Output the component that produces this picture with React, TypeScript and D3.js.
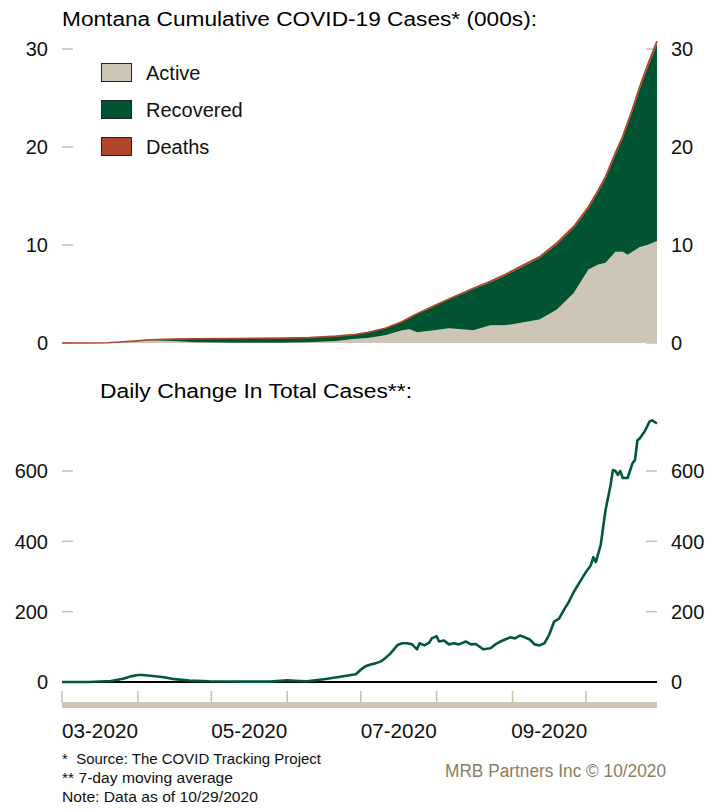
import React from "react";
import * as d3 from "d3";

// ---------- data ----------
const cumDates = [
  "2020-03-01","2020-03-12","2020-03-20","2020-03-26","2020-04-01","2020-04-06","2020-04-15","2020-04-25",
  "2020-05-10","2020-05-30","2020-06-10","2020-06-21","2020-06-28","2020-07-04","2020-07-11","2020-07-18",
  "2020-07-21","2020-07-24","2020-07-31","2020-08-06","2020-08-16","2020-08-23","2020-08-29","2020-09-05",
  "2020-09-12","2020-09-19","2020-09-26","2020-10-02","2020-10-06","2020-10-09","2020-10-13","2020-10-16",
  "2020-10-18","2020-10-20","2020-10-23","2020-10-26","2020-10-30"
];
const totalCases = [
  0, 0, 0.03, 0.12, 0.22, 0.33, 0.40, 0.44, 0.46, 0.50, 0.55, 0.70, 0.85, 1.1, 1.5, 2.2,
  2.6, 3.0, 3.8, 4.5, 5.6, 6.3, 7.0, 7.9, 8.8, 10.2, 11.9, 13.9, 15.6, 17.0, 19.4, 21.1,
  22.5, 23.9, 26.2, 28.3, 30.8
];
const activeCases = [
  0, 0, 0.03, 0.119, 0.21, 0.28, 0.2, 0.08, 0.03, 0.03, 0.08, 0.2, 0.4, 0.5, 0.8, 1.3,
  1.4, 1.1, 1.3, 1.5, 1.3, 1.8, 1.8, 2.1, 2.4, 3.4, 5.1, 7.5, 8.0, 8.2, 9.3, 9.3,
  9.0, 9.3, 9.8, 10.0, 10.4
];
const deathCases = [
  0, 0, 0, 0.001, 0.005, 0.006, 0.012, 0.016, 0.016, 0.017, 0.02, 0.02, 0.022, 0.023, 0.025, 0.03,
  0.034, 0.04, 0.05, 0.06, 0.08, 0.095, 0.11, 0.12, 0.13, 0.15, 0.16, 0.18, 0.19, 0.2, 0.21, 0.22,
  0.24, 0.25, 0.28, 0.31, 0.34
];

const dailyDates = [
  "2020-03-01","2020-03-12","2020-03-21","2020-03-26","2020-03-29","2020-04-01","2020-04-03","2020-04-06",
  "2020-04-11","2020-04-15","2020-04-22","2020-04-30","2020-05-13","2020-05-25","2020-06-01","2020-06-06",
  "2020-06-09","2020-06-16","2020-06-20","2020-06-22","2020-06-27","2020-06-29","2020-07-01","2020-07-03",
  "2020-07-05","2020-07-07","2020-07-09","2020-07-10","2020-07-13","2020-07-16","2020-07-18","2020-07-20",
  "2020-07-22","2020-07-24","2020-07-25","2020-07-27","2020-07-29","2020-07-30","2020-08-01","2020-08-02",
  "2020-08-04","2020-08-06","2020-08-08","2020-08-10","2020-08-13","2020-08-15","2020-08-17","2020-08-20",
  "2020-08-23","2020-08-25","2020-08-27","2020-08-29","2020-08-31","2020-09-02","2020-09-04","2020-09-06",
  "2020-09-08","2020-09-10","2020-09-12","2020-09-14","2020-09-16","2020-09-18","2020-09-20","2020-09-22",
  "2020-09-24","2020-09-26","2020-09-28","2020-10-01","2020-10-03","2020-10-04","2020-10-05","2020-10-07",
  "2020-10-09","2020-10-11","2020-10-12","2020-10-13","2020-10-14","2020-10-15","2020-10-16","2020-10-18",
  "2020-10-20","2020-10-21","2020-10-22","2020-10-23","2020-10-25","2020-10-27","2020-10-28","2020-10-30"
];
const dailyChange = [
  0, 0, 3, 9, 16, 20, 20, 18,
  14, 9, 4, 2, 1, 1, 5, 3,
  2, 8, 12, 14, 20, 22, 35, 45,
  50, 53, 58, 62, 80, 105, 110, 110,
  107, 93, 110, 104, 112, 124, 130, 115,
  118, 107, 110, 107, 115, 107, 108, 93,
  96, 107, 115, 121, 127, 124, 132, 127,
  121, 107, 104, 110, 135, 172, 180, 205,
  228, 256, 279, 313, 332, 355, 341, 389,
  490, 558, 603, 600, 589, 600, 580, 580,
  622, 631, 687, 693, 713, 741, 744, 735
];

const topTicks = [0, 10, 20, 30];
const bottomTicks = [0, 200, 400, 600];
const monthTicks = ["2020-03-01","2020-04-01","2020-05-01","2020-06-01","2020-07-01","2020-08-01","2020-09-01","2020-10-01"];
const monthLabels = ["03-2020", "", "05-2020", "", "07-2020", "", "09-2020", ""];
const seriesNames = ["Active", "Recovered", "Deaths"];
const seriesColors = ["#cdc6b4", "#005431", "#b0452a"];
const footnotes = ["*  Source: The COVID Tracking Project", "** 7-day moving average", "Note: Data as of 10/29/2020"];
const footnoteWidths = [259, 171, 196];

// ---------- chart ----------
const W = 723, H = 809;
const FONT = "'Liberation Sans', Arial, Helvetica, sans-serif";
const TAN = "#c9c1ab";
const parse = d3.timeParse("%Y-%m-%d");

export default function App() {
  const x = d3.scaleTime()
    .domain([parse("2020-03-01"), parse("2020-10-30")])
    .range([62, 657]);
  const yTop = d3.scaleLinear().domain([0, 30]).range([343, 49]);
  const yBot = d3.scaleLinear().domain([0, 600]).range([682, 471]);

  const cumRows = cumDates.map((d, i) => ({
    date: parse(d),
    Active: activeCases[i],
    Recovered: Math.max(0, totalCases[i] - activeCases[i] - deathCases[i]),
    Deaths: deathCases[i],
  }));
  const stack = d3.stack().keys(seriesNames)(cumRows as any);
  const area = d3.area<any>()
    .x((d) => x(d.data.date))
    .y0((d) => yTop(d[0]))
    .y1((d) => yTop(d[1]));
  const topLine = d3.line<any>()
    .x((d) => x(d.data.date))
    .y((d) => yTop(d[1]));

  const dailyRows = dailyDates.map((d, i) => ({ date: parse(d), v: dailyChange[i] }));
  const dailyLine = d3.line<any>()
    .x((d) => x(d.date))
    .y((d) => yBot(d.v));

  const months = monthTicks.map((m) => parse(m)!);
  const endDate = parse("2020-10-30")!;

  return (
    <div style={{ position: "absolute", left: 0, top: 0 }}>
      <svg width={W} height={H} style={{ display: "block" }} fontFamily={FONT}>
        <rect x={0} y={0} width={W} height={H} fill="#ffffff" />

        {/* ----- top chart ----- */}
        <text x={62} y={26} fontSize={19.5} fill="#000" textLength={475} lengthAdjust="spacingAndGlyphs">
          Montana Cumulative COVID-19 Cases* (000s):
        </text>
        {topTicks.map((t) => (
          <g key={"tt" + t}>
            <line x1={62} x2={73} y1={yTop(t)} y2={yTop(t)} stroke={TAN} strokeWidth={1.5} />
            <line x1={646} x2={657} y1={yTop(t)} y2={yTop(t)} stroke={TAN} strokeWidth={1.5} />
            <text x={48} y={yTop(t)} dy="0.36em" textAnchor="end" fontSize={20} fill="#111">{t}</text>
            <text x={671} y={yTop(t)} dy="0.36em" textAnchor="start" fontSize={20} fill="#111">{t}</text>
          </g>
        ))}
        {stack.map((s, i) => (
          <path key={"a" + i} d={area(s as any) || ""} fill={seriesColors[i]} />
        ))}
        <path d={topLine(stack[2] as any) || ""} fill="none" stroke={seriesColors[2]} strokeWidth={1.6} />

        {/* legend */}
        {seriesNames.map((n, i) => (
          <g key={"lg" + n}>
            <rect x={101.5} y={63.5 + i * 37} width={30} height={18} fill={seriesColors[i]} stroke="#222" strokeWidth={1} />
            <text x={146} y={72.5 + i * 37} dy="0.36em" fontSize={20} fill="#111">{n}</text>
          </g>
        ))}

        {/* ----- bottom chart ----- */}
        <text x={100} y={398} fontSize={19.5} fill="#000" textLength={312} lengthAdjust="spacingAndGlyphs">
          Daily Change In Total Cases**:
        </text>
        {bottomTicks.map((t) => (
          <g key={"bt" + t}>
            {t !== 0 && (
              <>
                <line x1={62} x2={73} y1={yBot(t)} y2={yBot(t)} stroke={TAN} strokeWidth={1.5} />
                <line x1={646} x2={657} y1={yBot(t)} y2={yBot(t)} stroke={TAN} strokeWidth={1.5} />
              </>
            )}
            <text x={48} y={yBot(t)} dy="0.36em" textAnchor="end" fontSize={20} fill="#111">{t}</text>
            <text x={671} y={yBot(t)} dy="0.36em" textAnchor="start" fontSize={20} fill="#111">{t}</text>
          </g>
        ))}
        <line x1={62} x2={657} y1={yBot(0)} y2={yBot(0)} stroke="#000" strokeWidth={2} />
        <path d={dailyLine(dailyRows) || ""} fill="none" stroke="#005a33" strokeWidth={2.6} strokeLinejoin="round" />

        {/* x axis */}
        {months.map((m, i) => (
          <line key={"mt" + i} x1={x(m)} x2={x(m)} y1={691} y2={703} stroke={TAN} strokeWidth={1.5} />
        ))}
        <rect x={62} y={702} width={595} height={6} fill="#cdc6b4" />
        {months.map((m, i) => {
          if (!monthLabels[i]) return null;
          const next = i + 1 < months.length ? months[i + 1] : endDate;
          const cx = (x(m) + x(next)) / 2;
          return (
            <text key={"ml" + i} x={cx} y={738} textAnchor="middle" fontSize={20} fill="#111" textLength={76} lengthAdjust="spacingAndGlyphs">
              {monthLabels[i]}
            </text>
          );
        })}

        {/* footnotes */}
        {footnotes.map((f, i) => (
          <text key={"fn" + i} x={62} y={764 + i * 19} fontSize={15.5} fill="#111"
            style={{ whiteSpace: "pre" }} textLength={footnoteWidths[i]} lengthAdjust="spacingAndGlyphs">{f}</text>
        ))}
        <text x={445} y={777} fontSize={18} fill="#8a7d62" textLength={221} lengthAdjust="spacingAndGlyphs">
          MRB Partners Inc © 10/2020
        </text>
      </svg>
    </div>
  );
}
